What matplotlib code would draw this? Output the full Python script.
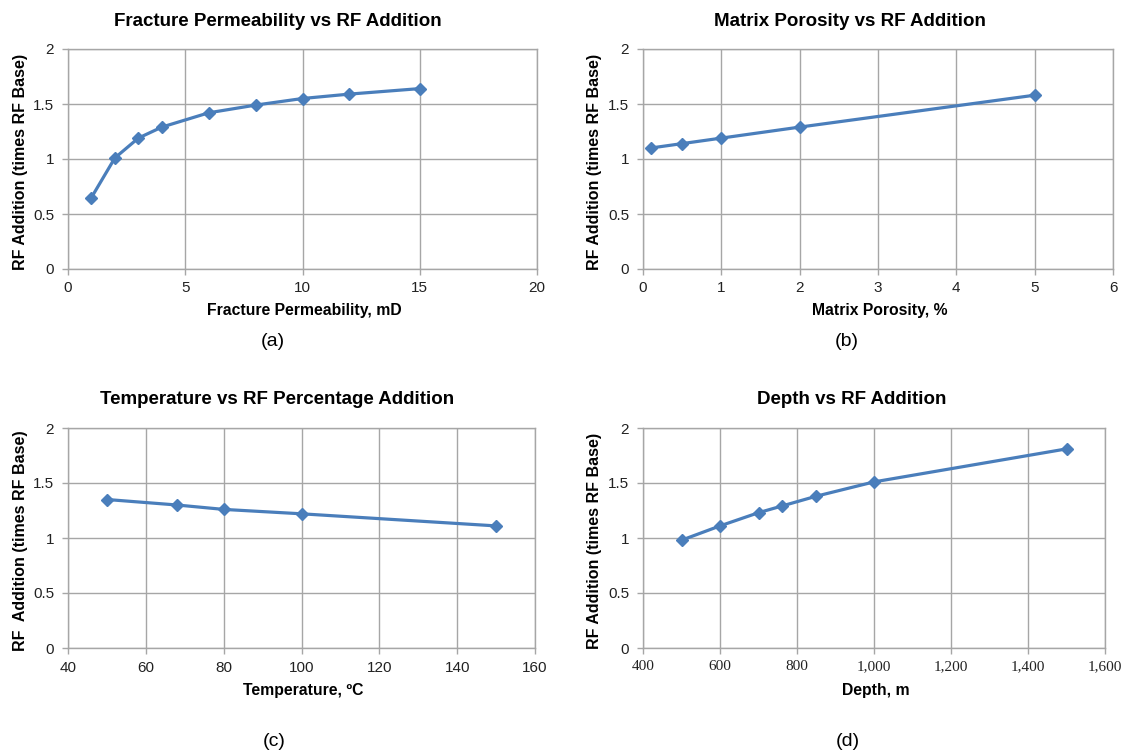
import matplotlib
matplotlib.use("Agg")
from matplotlib import pyplot as plt
from matplotlib.ticker import FuncFormatter

plt.rcParams['font.family'] = ['Liberation Sans', 'DejaVu Sans']

# panel (a)
perm_x = [1, 2, 3, 4, 6, 8, 10, 12, 15]
perm_y = [0.65, 1.01, 1.19, 1.29, 1.42, 1.49, 1.55, 1.59, 1.64]
# panel (b)
poro_x = [0.1, 0.5, 1, 2, 5]
poro_y = [1.10, 1.14, 1.19, 1.29, 1.58]
# panel (c)
temp_x = [50, 68, 80, 100, 150]
temp_y = [1.35, 1.30, 1.26, 1.22, 1.11]
# panel (d)
depth_x = [500, 600, 700, 760, 850, 1000, 1500]
depth_y = [0.98, 1.11, 1.23, 1.29, 1.38, 1.51, 1.81]

titles = ["Fracture Permeability vs RF Addition", "Matrix Porosity vs RF Addition",
          "Temperature vs RF Percentage Addition", "Depth vs RF Addition"]
xlabels = ["Fracture Permeability, mD", "Matrix Porosity, %",
           "Temperature, \u00baC", "Depth, m"]
ylabels = ["RF Addition (times RF Base)", "RF Addition (times RF Base)",
           "RF  Addition (times RF Base)", "RF Addition (times RF Base)"]
tags = ["(a)", "(b)", "(c)", "(d)"]

W, H = 1126, 756
BLUE = "#4a7ebb"
GRID = "#a6a6a6"

fig = plt.figure(figsize=(W / 100, H / 100), dpi=100)


def px(x, y):
    return x / W, 1 - y / H


def rect(x0, y_top, x1, y_bot):
    return [x0 / W, 1 - y_bot / H, (x1 - x0) / W, (y_bot - y_top) / H]


def make_panel(box, xs, ys, xlim, xticks, title, title_x, ylabel_x, tag, tag_x,
               xlabel, ylabel, serif_x=False):
    x0, y_top, x1, y_bot = box
    ax = fig.add_axes(rect(*box))
    ax.plot(xs, ys, color=BLUE, lw=2.3, marker="D", ms=6.5, mec=BLUE, mfc=BLUE,
            zorder=3, clip_on=False)
    ax.set_xlim(*xlim)
    ax.set_ylim(0, 2)
    ax.set_xticks(xticks)
    ax.set_yticks([0, 0.5, 1, 1.5, 2])
    ax.yaxis.set_major_formatter(FuncFormatter(lambda v, p: "%g" % v))
    ax.grid(True, color=GRID, lw=1.0)
    ax.set_axisbelow(True)
    for s in ax.spines.values():
        s.set_color(GRID)
        s.set_linewidth(1.0)
    ax.tick_params(colors=GRID, labelcolor="#222222", labelsize=11, length=4,
                   width=1.0)
    ax.tick_params(axis="x", pad=5)
    ax.tick_params(axis="y", pad=6)
    if serif_x:
        ax.xaxis.set_major_formatter(FuncFormatter(lambda v, p: "{:,.0f}".format(v)))
        for lab in ax.get_xticklabels():
            lab.set_family("Liberation Serif")
    cx = (x0 + x1) / 2
    fig.text(*px(title_x, y_top - 28), title, ha="center", va="center",
             fontsize=13.5, fontweight="bold")
    fig.text(*px(cx + 2, y_bot + 42), xlabel, ha="center", va="center",
             fontsize=11.3, fontweight="bold")
    fig.text(*px(ylabel_x, (y_top + y_bot) / 2 + 3), ylabel, ha="center",
             va="center", fontsize=11.5, fontweight="bold", rotation=90)
    fig.text(*px(tag_x, y_bot + (72 if y_top < 100 else 94)), tag, ha="center",
             va="center", fontsize=14)
    return ax


make_panel((68, 49, 537, 269), perm_x, perm_y, (0, 20), [0, 5, 10, 15, 20],
           titles[0], 278, 21, tags[0], 273, xlabels[0], ylabels[0])
make_panel((643, 49, 1113, 269), poro_x, poro_y, (0, 6), [0, 1, 2, 3, 4, 5, 6],
           titles[1], 850, 595, tags[1], 847, xlabels[1], ylabels[1])
make_panel((68, 428, 535, 648), temp_x, temp_y, (40, 160),
           [40, 60, 80, 100, 120, 140, 160],
           titles[2], 277, 21, tags[2], 274, xlabels[2], ylabels[2])
make_panel((643, 428, 1105, 648), depth_x, depth_y, (400, 1600),
           [400, 600, 800, 1000, 1200, 1400, 1600],
           titles[3], 852, 595, tags[3], 848, xlabels[3], ylabels[3], serif_x=True)

fig.savefig("out.png", dpi=100)
